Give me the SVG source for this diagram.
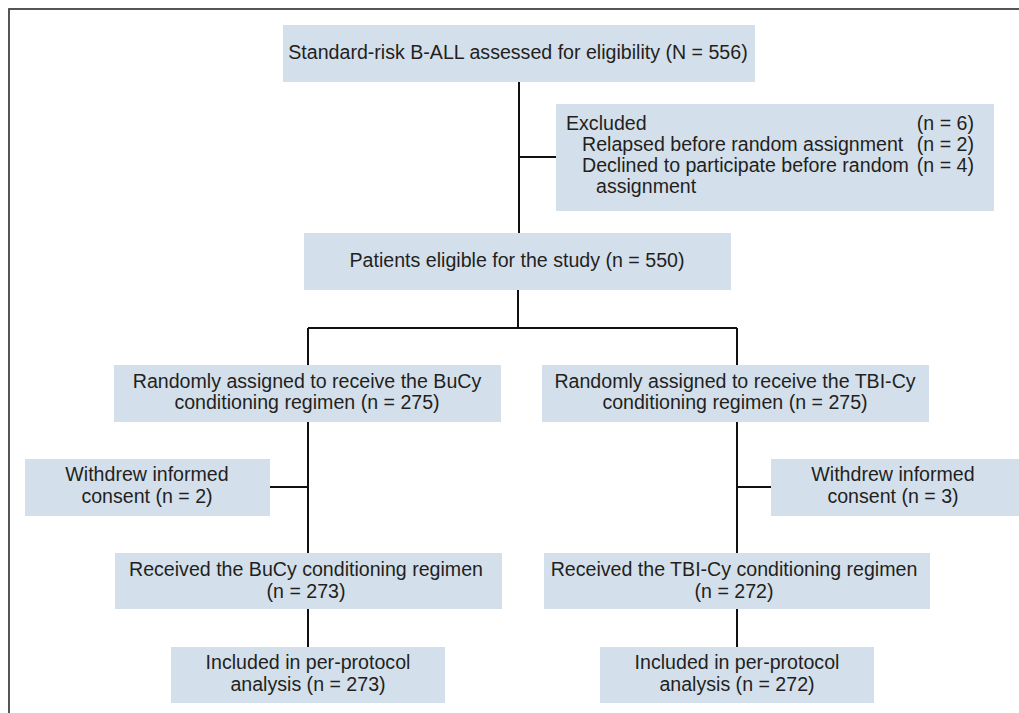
<svg xmlns="http://www.w3.org/2000/svg" width="1019" height="713" viewBox="0 0 1019 713">
<style>
.box{fill:#d4dfec;}
text{font-family:"Liberation Sans",Arial,sans-serif;font-size:19.6px;fill:#231f20;}
.c{text-anchor:middle;}
.r{text-anchor:end;}
.ln{stroke:#111;stroke-width:2;fill:none;}
</style>
<rect x="9" y="9" width="1030" height="720" fill="none" stroke="#444" stroke-width="1.8"/>
<g id="connectors">
<path class="ln" d="M519 82V233M519 157H556M518 290V328M308 328H737M308 328V365M737 328V365M308 422V553M270 487H308M737 422V553M737 487H771M308 609V647M737 609V647"/>
</g>
<g id="n1"><rect class="box" x="283" y="25" width="472" height="57"/><text class="c" x="518" y="59">Standard-risk B-ALL assessed for eligibility (N = 556)</text></g>
<g id="n2"><rect class="box" x="556" y="104" width="438" height="107"/>
<text x="566" y="130">Excluded</text><text class="r" x="974" y="130">(n = 6)</text>
<text x="582" y="151">Relapsed before random assignment</text><text class="r" x="974" y="151">(n = 2)</text>
<text x="582" y="172">Declined to participate before random</text><text class="r" x="974" y="172">(n = 4)</text>
<text x="596" y="193">assignment</text></g>
<g id="n3"><rect class="box" x="304" y="233" width="427" height="57"/><text class="c" x="517" y="267">Patients eligible for the study (n = 550)</text></g>
<g id="n4"><rect class="box" x="114" y="365" width="387" height="57"/><text class="c" x="307" y="388">Randomly assigned to receive the BuCy</text><text class="c" x="307" y="409">conditioning regimen (n = 275)</text></g>
<g id="n5"><rect class="box" x="542" y="365" width="387" height="57"/><text class="c" x="735" y="388">Randomly assigned to receive the TBI-Cy</text><text class="c" x="735" y="409">conditioning regimen (n = 275)</text></g>
<g id="n6"><rect class="box" x="25" y="459" width="245" height="57"/><text class="c" x="147" y="481">Withdrew informed</text><text class="c" x="147" y="503">consent (n = 2)</text></g>
<g id="n7"><rect class="box" x="771" y="459" width="248" height="57"/><text class="c" x="893" y="481">Withdrew informed</text><text class="c" x="893" y="503">consent (n = 3)</text></g>
<g id="n8"><rect class="box" x="115" y="553" width="387" height="56"/><text class="c" x="306" y="576">Received the BuCy conditioning regimen</text><text class="c" x="306" y="598">(n = 273)</text></g>
<g id="n9"><rect class="box" x="544" y="553" width="386" height="56"/><text class="c" x="734" y="576">Received the TBI-Cy conditioning regimen</text><text class="c" x="734" y="598">(n = 272)</text></g>
<g id="n10"><rect class="box" x="171" y="647" width="274" height="56"/><text class="c" x="308" y="669">Included in per-protocol</text><text class="c" x="308" y="691">analysis (n = 273)</text></g>
<g id="n11"><rect class="box" x="600" y="647" width="274" height="56"/><text class="c" x="737" y="669">Included in per-protocol</text><text class="c" x="737" y="691">analysis (n = 272)</text></g>
</svg>
